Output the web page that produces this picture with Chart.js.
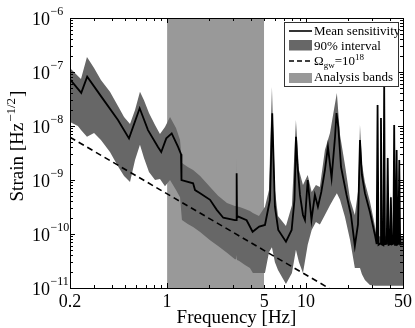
<html>
<head>
<meta charset="UTF-8">
<script src="https://cdn.jsdelivr.net/npm/chart.js@4.4.0/dist/chart.umd.min.js"></script>
<style>
body { margin:0; background:#fff; }
</style>
</head>
<body>
<canvas id="strain" width="415" height="328"></canvas>

<script>
// mean sensitivity curve (Hz, strain)
var meanFreq = [0.2, 0.241, 0.266, 0.336, 0.443, 0.532, 0.635, 0.729, 0.86, 0.908, 0.987, 1.08, 1.2, 1.26, 1.27,
	1.54, 1.59, 1.73, 2.04, 2.28, 2.54, 3.08, 3.15, 3.17, 3.19, 3.26, 3.74, 4.13, 4.61, 5.07, 5.51, 5.72, 5.98, 6.32,
	7.18, 7.89, 8.27, 8.48, 8.69, 9.06, 9.52, 9.84, 10.3, 10.96, 11.6, 12.2, 12.9, 13.7, 14.4, 15.3, 16.2, 16.6, 17.1,
	17.9, 19.6, 21.1, 22.5, 23.7, 24.5, 25.3, 26.6, 28.9, 31.4, 32.3, 32.8, 33.3, 34.2, 34.7, 35.2, 36.1, 36.6, 37.1,
	38.2, 38.8, 39.4, 40.3, 40.9, 41.5, 42.6, 43.2, 43.8, 44.4, 45.0, 45.6, 46.3, 47.0, 47.7, 50];
var meanStrain = [7.3e-8, 4.1e-8, 8.2e-8, 3.5e-8, 1.29e-8, 5.9e-9, 2.13e-8, 8.4e-9, 4.1e-9, 3.3e-9, 5.9e-9, 7.3e-9, 4.1e-9, 3.0e-9, 1.0e-9,
	8.7e-10, 6.5e-10, 5.7e-10, 4.3e-10, 2.8e-10, 2.0e-10, 1.8e-10, 1.8e-10, 1.33e-9, 2.0e-10, 2.1e-10, 1.8e-10, 1.1e-10, 1.37e-10, 1.47e-10, 4.3e-10, 1.72e-8, 3.2e-10, 1.19e-10,
	7.2e-11, 1.19e-10, 4.3e-10, 6.3e-9, 1.9e-9, 5.3e-10, 2.25e-10, 1.82e-10, 1.0e-9, 1.82e-10, 5.3e-10, 3.2e-10, 6.0e-10, 1.53e-9, 4.1e-9, 1.09e-9, 6.3e-9, 1.74e-8, 9.6e-9,
	1.74e-9, 5.3e-10, 2.25e-10, 6.0e-11, 1.5e-10, 5.5e-9, 1.24e-9, 5.7e-10, 2.55e-10, 9.6e-11, 6.5e-11, 2.45e-8, 6.3e-11, 6.6e-11, 1.41e-8, 6.4e-11, 6.2e-11, 5.7e-8, 6.5e-11,
	6.6e-11, 2.55e-9, 6.3e-11, 6.5e-11, 4.8e-10, 6.4e-11, 6.6e-11, 1.04e-8, 6.3e-11, 6.5e-11, 3.6e-9, 6.4e-11, 6.6e-11, 2.35e-9, 6.4e-11, 6.5e-11];

// 90% interval
var bandFreq = [0.2, 0.228, 0.24, 0.265, 0.298, 0.334, 0.388, 0.443, 0.49, 0.541, 0.588, 0.638, 0.682, 0.741, 0.819, 0.889, 0.966,
	1.05, 1.16, 1.24, 1.28, 1.41, 1.54, 1.73, 2.04, 2.33, 2.7, 3.08, 3.15, 3.17, 3.19, 3.29, 3.64, 3.95, 4.15, 4.59, 5.07, 5.42, 5.69,
	5.98, 6.29, 7.18, 7.93, 8.47, 8.91, 9.52, 10.3, 11.0, 11.8, 12.6, 13.7, 14.9, 15.9, 16.7, 17.6, 19.1, 20.8, 22.5, 23.8, 24.5, 25.3,
	26.6, 28.9, 31.4, 32.3, 32.8, 33.3, 34.2, 34.7, 35.2, 36.1, 36.6, 37.1, 38.2, 38.8, 39.4, 40.3, 40.9, 41.5, 42.6, 43.2, 43.8, 44.4,
	45.0, 45.6, 46.3, 47.0, 47.7, 50];
var bandUpper = [1.19e-7, 8.4e-8, 7.4e-8, 1.9e-7, 1.19e-7, 7.1e-8, 4.3e-8, 2.35e-8, 1.47e-8, 1.09e-8, 1.98e-8, 4.3e-8, 3.0e-8, 1.74e-8, 1.04e-8, 7.1e-9, 9.6e-9,
	1.47e-8, 9.2e-9, 5.5e-9, 2.06e-9, 1.74e-9, 1.53e-9, 1.19e-9, 7.4e-10, 5.1e-10, 3.75e-10, 3.3e-10, 3.3e-10, 2.55e-9, 3.2e-10, 3.2e-10, 2.9e-10, 2.67e-10, 2.45e-10, 2.15e-10, 3.2e-10, 6.5e-10, 5.3e-8,
	6.5e-10, 2.15e-10, 1.41e-10, 3.4e-10, 1.29e-8, 1.53e-9, 8.1e-10, 1.24e-9, 6.0e-10, 8.1e-10, 7.4e-10, 3.6e-9, 7.4e-9, 1.98e-8, 4.1e-8, 6.8e-9, 1.9e-9, 4.3e-10, 2.25e-10, 6.5e-10, 1.04e-8, 2.0e-9,
	9.0e-10, 4.0e-10, 1.4e-10, 9.0e-11, 3.0e-8, 9.2e-11, 9.0e-11, 1.7e-8, 9.1e-11, 8.9e-11, 7.0e-8, 9.0e-11, 9.2e-11, 3.2e-9, 9.0e-11, 9.1e-11, 6.0e-10, 8.9e-11, 9.0e-11, 1.3e-8, 9.2e-11, 9.0e-11,
	4.5e-9, 9.1e-11, 8.9e-11, 3.0e-9, 9.0e-11, 9.2e-11];
var bandLower = [1.19e-8, 1.0e-8, 8.4e-9, 6.3e-9, 7.4e-9, 5.5e-9, 3.3e-9, 1.8e-9, 1.19e-9, 9.2e-10, 2.35e-9, 4.5e-9, 2.55e-9, 1.41e-9, 1.0e-9, 1.04e-9, 7.7e-10,
	1.0e-9, 6.5e-10, 4.8e-10, 1.82e-10, 1.53e-10, 1.35e-10, 1.09e-10, 7.7e-11, 6.0e-11, 4.5e-11, 3.4e-11, 3.4e-11, 4.1e-11, 3.3e-11, 3.2e-11, 2.67e-11, 2.35e-11, 1.9e-11, 1.9e-11, 1.9e-11, 4.6e-11, 5.7e-11,
	3.0e-11, 2.15e-11, 1.19e-11, 1.9e-11, 5.1e-11, 3.0e-11, 1.9e-11, 6.3e-11, 1.19e-10, 1.67e-10, 1.5e-10, 2.25e-10, 3.4e-10, 4.6e-10, 5.7e-10, 4.3e-10, 2.07e-10, 7.7e-11, 2.35e-11, 2.35e-11, 2.35e-11, 1.8e-11,
	1.41e-11, 1.14e-11, 1.1e-11, 1.1e-11, 1.1e-11, 1.1e-11, 1.1e-11, 1.1e-11, 1.1e-11, 1.1e-11, 1.1e-11, 1.1e-11, 1.1e-11, 1.1e-11, 1.1e-11, 1.1e-11, 1.1e-11, 1.1e-11, 1.1e-11, 1.1e-11, 1.1e-11, 1.1e-11,
	1.1e-11, 1.1e-11, 1.1e-11, 1.1e-11, 1.1e-11, 1.1e-11];

// Omega_gw = 1e18 line, end points
var omegaFreq = [0.2, 50];
var omegaStrain = [6.2e-9, 1.57e-12];

var analysisBand = [1, 5];   // Hz
var xTicks = [0.2, 1, 5, 10, 50];
var yTicks = [1e-11, 1e-10, 1e-9, 1e-8, 1e-7, 1e-6];

var SERIF = '"Liberation Serif", "Times New Roman", serif';
var BAND = '#676767';
var LIGHT = '#999999';

function pts(xs, ys) {
	var out = [];
	for (var i = 0; i < xs.length; i++) out.push({x: xs[i], y: ys[i]});
	return out;
}

// 1..9 x 10^n tick positions inside [min,max]
function logTicks(min, max) {
	var out = [];
	for (var e = Math.floor(Math.log10(min)); e <= Math.ceil(Math.log10(max)); e++) {
		for (var m = 1; m < 10; m++) {
			var v = m * Math.pow(10, e);
			if (v >= min * 0.999 && v <= max * 1.001) out.push({v: v, major: m == 1});
		}
	}
	return out;
}

var framePlugin = {
	id: 'frame',
	afterDatasetsDraw: function(chart) {
		var ctx = chart.ctx, a = chart.chartArea;
		var xs = chart.scales.x, ys = chart.scales.y;
		ctx.save();
		ctx.strokeStyle = '#000';
		ctx.lineWidth = 1;
		ctx.beginPath();
		logTicks(xs.min, xs.max).forEach(function(t) {
			var px = Math.round(xs.getPixelForValue(t.v)) + 0.5;
			var len = t.major ? 5 : 3;
			ctx.moveTo(px, a.bottom); ctx.lineTo(px, a.bottom - len);
			ctx.moveTo(px, a.top); ctx.lineTo(px, a.top + len);
		});
		logTicks(ys.min, ys.max).forEach(function(t) {
			var py = Math.round(ys.getPixelForValue(t.v)) + 0.5;
			var len = t.major ? 5 : 3;
			ctx.moveTo(a.left, py); ctx.lineTo(a.left + len, py);
			ctx.moveTo(a.right, py); ctx.lineTo(a.right - len, py);
		});
		ctx.stroke();
		ctx.strokeRect(Math.round(a.left) + 0.5, Math.round(a.top) + 0.5, Math.round(a.right - a.left), Math.round(a.bottom - a.top));

		// y tick labels 10^-n
		ctx.fillStyle = '#000';
		ctx.textBaseline = 'alphabetic';
		yTicks.forEach(function(v) {
			var py = ys.getPixelForValue(v);
			var e = Math.round(Math.log10(v));
			ctx.font = '18px ' + SERIF;
			ctx.textAlign = 'right';
			ctx.fillText('10', a.left - 20, py + 6.5);
			ctx.font = '12px ' + SERIF;
			ctx.textAlign = 'left';
			ctx.fillText('\u2212' + Math.abs(e), a.left - 19.5, py - 3);
		});

		// y title with superscript
		ctx.save();
		ctx.translate(23, 146);
		ctx.rotate(-Math.PI / 2);
		ctx.textAlign = 'left';
		ctx.font = '19px ' + SERIF;
		var w1 = ctx.measureText('Strain [Hz').width;
		var w3 = ctx.measureText(']').width;
		ctx.font = '13px ' + SERIF;
		var w2 = ctx.measureText('\u22121/2').width;
		var x0 = -(w1 + w2 + w3 + 2) / 2;
		ctx.font = '19px ' + SERIF;
		ctx.fillText('Strain [Hz', x0, 0);
		ctx.font = '13px ' + SERIF;
		ctx.fillText('\u22121/2', x0 + w1 + 1, -8);
		ctx.font = '19px ' + SERIF;
		ctx.fillText(']', x0 + w1 + w2 + 2, 0);
		ctx.restore();

		// legend box
		var ds = chart.data.datasets;
		var lx = Math.round(a.right) - 119, ly = Math.round(a.top) + 4;
		ctx.fillStyle = '#fff';
		ctx.fillRect(lx, ly, 114, 64);
		ctx.strokeStyle = '#333';
		ctx.strokeRect(lx + 0.5, ly + 0.5, 114, 64);

		ctx.strokeStyle = '#000';
		ctx.lineWidth = 1.6;
		ctx.beginPath(); ctx.moveTo(lx + 5, ly + 9); ctx.lineTo(lx + 28, ly + 9); ctx.stroke();
		ctx.fillStyle = BAND;
		ctx.fillRect(lx + 5, ly + 18, 23, 10.5);
		ctx.setLineDash([5, 3]);
		ctx.beginPath(); ctx.moveTo(lx + 5, ly + 39); ctx.lineTo(lx + 28, ly + 39); ctx.stroke();
		ctx.setLineDash([]);
		ctx.fillStyle = LIGHT;
		ctx.fillRect(lx + 5, ly + 51, 23, 10);

		ctx.fillStyle = '#000';
		ctx.textAlign = 'left';
		ctx.font = '13px ' + SERIF;
		var tx = lx + 30;
		ctx.fillText(ds[0].label, tx, ly + 13);
		ctx.fillText(ds[1].label, tx, ly + 27.5);
		ctx.fillText(ds[4].label, tx, ly + 59);
		// Omega_gw = 10^18
		var bx = tx;
		ctx.fillText('\u03A9', bx, ly + 43); bx += ctx.measureText('\u03A9').width;
		ctx.font = '9px ' + SERIF;
		ctx.fillText('gw', bx, ly + 45.5); bx += ctx.measureText('gw').width;
		ctx.font = '13px ' + SERIF;
		ctx.fillText('=10', bx, ly + 43); bx += ctx.measureText('=10').width;
		ctx.font = '9px ' + SERIF;
		ctx.fillText('18', bx, ly + 37.5);
		ctx.restore();
	}
};

var ctx = document.getElementById('strain').getContext('2d');
var chart = new Chart(ctx, {
	type: 'line',
	data: {
		datasets: [{
			label: 'Mean sensitivity',
			data: pts(meanFreq, meanStrain),
			borderColor: '#000',
			borderWidth: 1.8,
			order: 0
		}, {
			label: '90% interval',
			data: pts(bandFreq, bandUpper),
			borderWidth: 0,
			backgroundColor: BAND,
			fill: 2,
			order: 2
		}, {
			label: '90% lower',
			data: pts(bandFreq, bandLower),
			borderWidth: 0,
			fill: false,
			order: 2
		}, {
			label: '\u03A9gw=10^18',
			data: pts(omegaFreq, omegaStrain),
			borderColor: '#000',
			borderWidth: 1.6,
			borderDash: [6, 4],
			order: 1
		}, {
			label: 'Analysis bands',
			data: [{x: analysisBand[0], y: yTicks[yTicks.length - 1]}, {x: analysisBand[1], y: yTicks[yTicks.length - 1]}],
			borderWidth: 0,
			backgroundColor: LIGHT,
			fill: 'start',
			order: 3
		}]
	},
	options: {
		responsive: false,
		animation: false,
		layout: { padding: { left: 0, right: 12, top: 18, bottom: 0 } },
		elements: { point: { radius: 0 }, line: { tension: 0 } },
		plugins: { legend: { display: false }, tooltip: { enabled: false } },
		scales: {
			x: {
				type: 'logarithmic',
				min: 0.2, max: 50,
				afterBuildTicks: function(s) { s.ticks = xTicks.map(function(v) { return {value: v}; }); },
				ticks: {
					autoSkip: false, maxRotation: 0, color: '#000', padding: 3,
					font: { family: SERIF, size: 18 },
					callback: function(v) { return String(v); }
				},
				grid: { display: false, drawTicks: false },
				border: { display: false },
				title: { display: true, text: 'Frequency [Hz]', color: '#000', padding: 0,
					font: { family: SERIF, size: 19, lineHeight: 1 } },
				afterFit: function(s) { s.height = 40; }
			},
			y: {
				type: 'logarithmic',
				min: yTicks[0], max: yTicks[yTicks.length - 1],
				ticks: { display: false },
				grid: { display: false, drawTicks: false },
				border: { display: false },
				afterFit: function(s) { s.width = 70; }
			}
		}
	},
	plugins: [framePlugin]
});
</script>
</body>
</html>
